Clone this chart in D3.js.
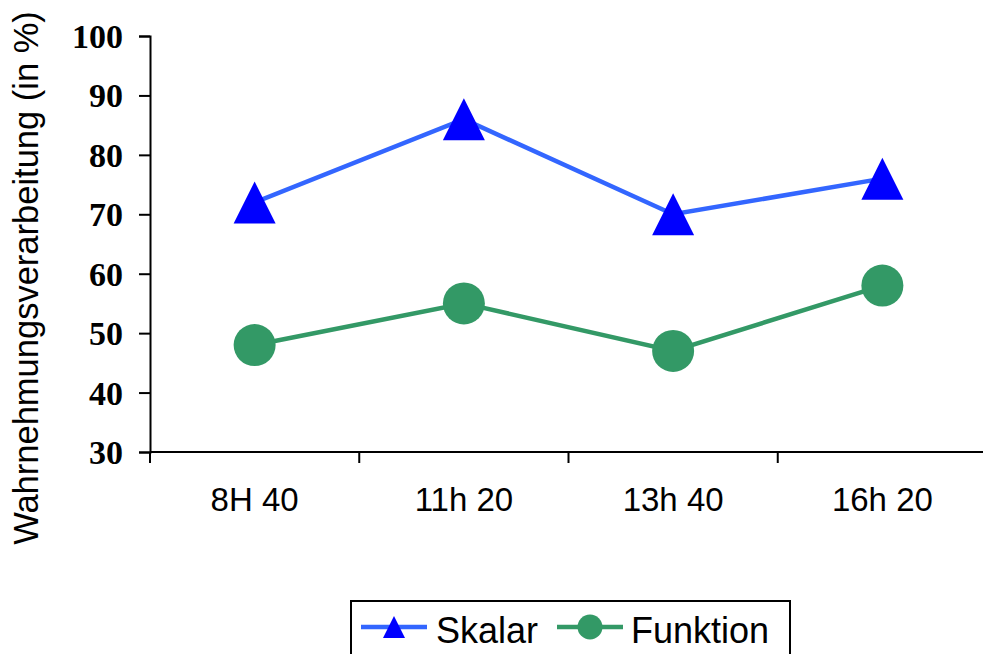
<!DOCTYPE html>
<html>
<head>
<meta charset="utf-8">
<script src="https://cdn.jsdelivr.net/npm/d3@7"></script>
<style>
  html, body { margin: 0; padding: 0; background: #fff; }
  svg { display: block; }
</style>
</head>
<body>
<svg id="chart" width="983" height="654"></svg>
<script>
// Time-of-day categories
const categories = ["8H 40", "11h 20", "13h 40", "16h 20"];
// Series values (percent)
const skalar = [72, 86, 70, 76];
const funktion = [48, 55, 47, 58];
// Y axis tick values
const yTicks = [30, 40, 50, 60, 70, 80, 90, 100];
const seriesNames = ["Skalar", "Funktion"];

const svg = d3.select("#chart");

const x = d3.scaleBand().domain(categories).range([150, 987]).padding(0);
const y = d3.scaleLinear().domain([30, 100]).range([452, 36]);
const cx = c => x(c) + x.bandwidth() / 2;

// Y axis
const yAxis = svg.append("g")
  .attr("transform", "translate(150,0)")
  .call(d3.axisLeft(y).tickValues(yTicks).tickSize(11).tickPadding(16).tickFormat(d3.format("d")));
yAxis.select(".domain").attr("stroke", "#000").attr("stroke-width", 2);
yAxis.selectAll(".tick line").attr("stroke", "#000").attr("stroke-width", 2);
yAxis.selectAll(".tick text")
  .attr("fill", "#000")
  .attr("font-family", "'Liberation Serif', 'Times New Roman', serif")
  .attr("font-weight", "bold")
  .attr("font-size", 34)
  .attr("dy", "0.34em");

// X axis: baseline, boundary ticks and centered labels
const xg = svg.append("g");
xg.append("line")
  .attr("x1", 150).attr("x2", 983)
  .attr("y1", y(30)).attr("y2", y(30))
  .attr("stroke", "#000").attr("stroke-width", 2);
const edges = categories.map(c => x(c)).concat([x(categories[categories.length - 1]) + x.bandwidth()]);
xg.selectAll("line.edge").data(edges).join("line")
  .attr("class", "edge")
  .attr("x1", d => d).attr("x2", d => d)
  .attr("y1", y(30)).attr("y2", y(30) + 11)
  .attr("stroke", "#000").attr("stroke-width", 2);
xg.selectAll("text").data(categories).join("text")
  .attr("x", cx)
  .attr("y", 511)
  .attr("text-anchor", "middle")
  .attr("font-family", "'Liberation Sans', Arial, sans-serif")
  .attr("font-size", 33)
  .attr("fill", "#000")
  .text(d => d);

// Y axis title
svg.append("text")
  .attr("transform", "translate(38,278) rotate(-90)")
  .attr("text-anchor", "middle")
  .attr("font-family", "'Liberation Sans', Arial, sans-serif")
  .attr("font-size", 34.5)
  .attr("fill", "#000")
  .text("Wahrnehmungsverarbeitung (in %)");

const triPath = s => {
  const p = d3.path();
  p.moveTo(0, -s); p.lineTo(s, s); p.lineTo(-s, s); p.closePath();
  return p.toString();
};

const line = d3.line().x((d, i) => cx(categories[i])).y(d => y(d));

// Skalar series
svg.append("path").datum(skalar)
  .attr("d", line).attr("fill", "none")
  .attr("stroke", "#3366FF").attr("stroke-width", 4.5);
svg.selectAll("path.tri").data(skalar).join("path")
  .attr("class", "tri")
  .attr("transform", (d, i) => `translate(${cx(categories[i])},${y(d)})`)
  .attr("d", triPath(21))
  .attr("fill", "#0000FF");

// Funktion series
svg.append("path").datum(funktion)
  .attr("d", line).attr("fill", "none")
  .attr("stroke", "#339966").attr("stroke-width", 4.5);
svg.selectAll("circle.pt").data(funktion).join("circle")
  .attr("class", "pt")
  .attr("cx", (d, i) => cx(categories[i]))
  .attr("cy", d => y(d))
  .attr("r", 21)
  .attr("fill", "#339966");

// Legend
const lg = svg.append("g");
lg.append("rect")
  .attr("x", 351).attr("y", 601).attr("width", 439).attr("height", 70)
  .attr("fill", "none").attr("stroke", "#000").attr("stroke-width", 2);

const ly = 627;
lg.append("line").attr("x1", 361).attr("x2", 427).attr("y1", ly).attr("y2", ly)
  .attr("stroke", "#3366FF").attr("stroke-width", 4.5);
lg.append("path").attr("transform", `translate(394,${ly})`).attr("d", triPath(11)).attr("fill", "#0000FF");
lg.append("text").attr("x", 436).attr("y", 643)
  .attr("font-family", "'Liberation Sans', Arial, sans-serif").attr("font-size", 36).attr("fill", "#000")
  .text(seriesNames[0]);

lg.append("line").attr("x1", 557).attr("x2", 623).attr("y1", ly).attr("y2", ly)
  .attr("stroke", "#339966").attr("stroke-width", 4.5);
lg.append("circle").attr("cx", 590).attr("cy", ly).attr("r", 12.5).attr("fill", "#339966");
lg.append("text").attr("x", 631).attr("y", 643)
  .attr("font-family", "'Liberation Sans', Arial, sans-serif").attr("font-size", 36).attr("fill", "#000")
  .text(seriesNames[1]);
</script>
</body>
</html>
